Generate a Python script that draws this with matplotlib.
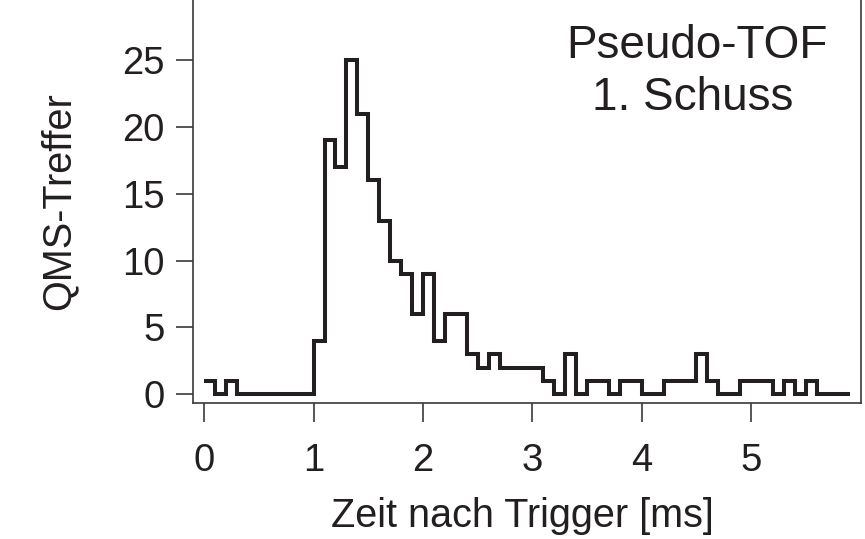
import numpy as np
import matplotlib
matplotlib.use("Agg")
import matplotlib.pyplot as plt

# QMS-Treffer pro 0,1-ms-Zeitfenster nach dem Trigger (1. Schuss)
BIN_START_MS = 0.0
BIN_WIDTH_MS = 0.1
hits = [1, 0, 1, 0, 0, 0, 0, 0, 0, 0,
        4, 19, 17, 25, 21, 16, 13, 10, 9, 6,
        9, 4, 6, 6, 3, 2, 3, 2, 2, 2,
        2, 1, 0, 3, 0, 1, 1, 0, 1, 1,
        0, 0, 1, 1, 1, 3, 1, 0, 0, 1,
        1, 1, 0, 1, 0, 1, 0, 0, 0]

x_ticks = [0, 1, 2, 3, 4, 5]
y_ticks = [0, 5, 10, 15, 20, 25]

INK = '#231f20'
AXIS = '#3a3a3a'

plt.rcParams['font.family'] = ['Liberation Sans', 'DejaVu Sans']

edges = BIN_START_MS + BIN_WIDTH_MS * np.arange(len(hits) + 1)

fig = plt.figure(figsize=(8.65, 5.39), dpi=100)
ax = fig.add_axes([0.2228, 0.2523, 0.7720, 0.7477])

ax.stairs(hits, edges, baseline=None, color=INK, linewidth=2.9)

ax.set_xlim(-0.105, 6.0)
ax.set_ylim(-0.65, 29.5)
ax.set_xticks(x_ticks)
ax.set_yticks(y_ticks)

ax.spines['top'].set_visible(False)
for side in ('left', 'right', 'bottom'):
    ax.spines[side].set_color(AXIS)
    ax.spines[side].set_linewidth(1.2)

ax.tick_params(axis='x', direction='out', length=13.5, width=1.2,
               color=AXIS, pad=15, labelsize=27.5, labelcolor=INK)
ax.tick_params(axis='y', direction='out', length=12, width=1.2,
               color=AXIS, pad=8, labelsize=27.5, labelcolor=INK)

ax.set_xlabel('Zeit nach Trigger [ms]', fontsize=28.5, color=INK)
ax.set_ylabel('QMS-Treffer', fontsize=28.5, color=INK)
ax.xaxis.set_label_coords(0.494, -0.232)
ax.yaxis.set_label_coords(-0.172, 0.5)

ax.text(0.755, 0.855, 'Pseudo-TOF', transform=ax.transAxes,
        ha='center', va='baseline', fontsize=33, color=INK)
ax.text(0.749, 0.727, '1. Schuss', transform=ax.transAxes,
        ha='center', va='baseline', fontsize=33, color=INK)

fig.savefig('out.png', dpi=100)
